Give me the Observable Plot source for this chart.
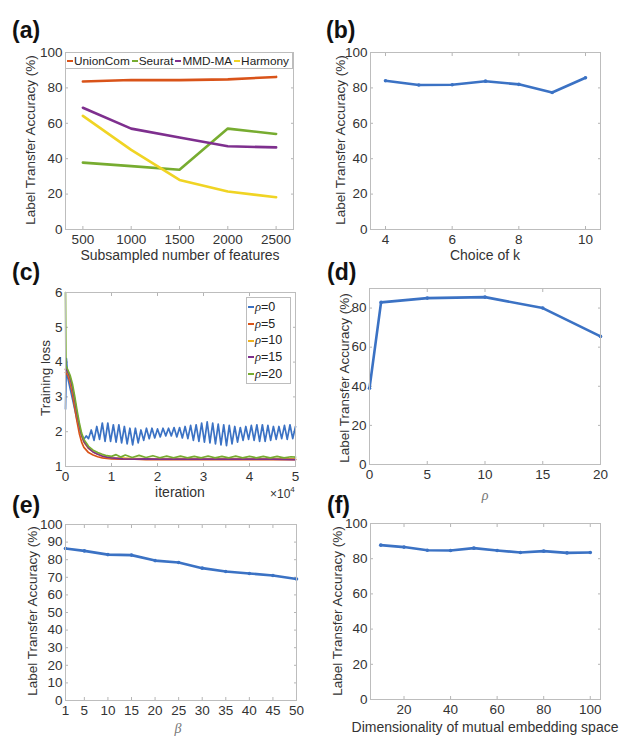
<!DOCTYPE html>
<html><head><meta charset="utf-8">
<script src="https://cdn.jsdelivr.net/npm/d3@7"></script>
<script src="https://cdn.jsdelivr.net/npm/@observablehq/plot@0.6"></script>
<style>
body{margin:0;background:#fff;font-family:"Liberation Sans",Arial,sans-serif;}
#fig{position:relative;width:627px;height:746px;overflow:hidden;background:#fff}
.abs{position:absolute;white-space:nowrap;color:#333;line-height:1;}
.plab{font-weight:bold;font-size:23px;color:#111}
.ytitle{font-size:13.5px;transform:translate(-50%,-50%) rotate(-90deg);}
.xtitle{font-size:14px;transform:translate(-50%,-50%);}
.greek{font-family:"Liberation Serif","DejaVu Serif",serif;font-style:italic;}
.legbox{position:absolute;border:1px solid #bdbdbd;background:#fff;box-sizing:border-box;}
.seg{position:absolute;height:2px;}
.lt{position:absolute;color:#222;line-height:1;white-space:nowrap;}
.hleg{display:flex;align-items:center;justify-content:space-between;padding:0 3px 0 1px;font-size:11.8px;color:#222;}
.hitem{display:flex;align-items:center;white-space:nowrap;}
.hitem i{display:inline-block;width:6px;height:2px;margin-right:1px;}
</style></head><body><div id="fig"></div><script>
// ---------- (a) ----------
const features = [500, 1000, 1500, 2000, 2500];
const methods = ["UnionCom", "Seurat", "MMD-MA", "Harmony"];
const unionCom = [83.6, 84.5, 84.4, 84.8, 86.2];
const seurat = [37.8, 35.8, 33.8, 57.0, 54.0];
const mmdMA = [68.8, 57.0, 52.0, 47.0, 46.4];
const harmony = [64.2, 45.0, 28.0, 21.5, 18.2];
const methodColors = ["#d95319", "#77ac30", "#7e2f8e", "#f0d424"];
// ---------- (b) ----------
const kValues = [4, 5, 6, 7, 8, 9, 10];
const accK = [84.0, 81.6, 81.8, 83.8, 82.0, 77.4, 85.7];
// ---------- (c) ----------
const rhoLegend = ["0", "5", "10", "15", "20"];
const rhoColors = ["#3b72c4", "#d95319", "#edb120", "#7e2f8e", "#77ac30"];
const iterRho0 = [0, 0.02, 0.05, 0.1, 0.15, 0.2, 0.25, 0.3, 0.35, 0.4, 0.45,
  0.50, 0.56, 0.62, 0.68, 0.74, 0.80, 0.86, 0.92, 0.98, 1.04, 1.10, 1.16, 1.22, 1.28, 1.34, 1.40,
  1.46, 1.52, 1.58, 1.64, 1.70, 1.76, 1.82, 1.88, 1.94, 2.00, 2.06, 2.12, 2.18, 2.24, 2.30, 2.36,
  2.42, 2.48, 2.54, 2.60, 2.66, 2.72, 2.78, 2.84, 2.90, 2.96, 3.02, 3.08, 3.14, 3.20, 3.26, 3.32,
  3.38, 3.44, 3.50, 3.56, 3.62, 3.68, 3.74, 3.80, 3.86, 3.92, 3.98, 4.04, 4.10, 4.16, 4.22, 4.28,
  4.34, 4.40, 4.46, 4.52, 4.58, 4.64, 4.70, 4.76, 4.82, 4.88, 4.94, 5.00];
const lossRho0 = [2.65, 4.1, 3.55, 3.25, 2.95, 2.65, 2.35, 2.1, 1.9, 1.78, 1.88,
  1.80, 2.05, 1.75, 2.15, 1.78, 2.25, 1.72, 2.25, 1.72, 2.20, 1.70, 2.20, 1.68, 2.15, 1.65, 2.10,
  1.62, 2.10, 1.68, 2.05, 1.75, 2.10, 1.80, 2.10, 1.82, 2.08, 1.85, 2.10, 1.88, 2.10, 1.88, 2.12,
  1.85, 2.12, 1.82, 2.15, 1.80, 2.18, 1.75, 2.20, 1.72, 2.25, 1.70, 2.28, 1.68, 2.25, 1.65, 2.22,
  1.62, 2.20, 1.60, 2.18, 1.65, 2.15, 1.70, 2.12, 1.75, 2.15, 1.78, 2.18, 1.75, 2.20, 1.72, 2.20,
  1.72, 2.18, 1.75, 2.15, 1.78, 2.15, 1.80, 2.18, 1.78, 2.20, 1.80, 2.15];
const iterSmooth = [0, 0.05, 0.1, 0.15, 0.2, 0.25, 0.3, 0.35, 0.4, 0.5, 0.6, 0.7, 0.8, 0.9, 1.0,
  1.25, 1.5, 1.75, 2.0, 2.5, 3.0, 3.5, 4.0, 4.5, 5.0];
const lossRho5 = [3.70, 3.62, 3.42, 3.10, 2.70, 2.30, 1.95, 1.70, 1.55, 1.40, 1.33, 1.28, 1.25, 1.23, 1.22,
  1.21, 1.21, 1.20, 1.20, 1.20, 1.20, 1.20, 1.20, 1.20, 1.20];
const lossRho10 = [3.78, 3.70, 3.52, 3.25, 2.90, 2.50, 2.15, 1.88, 1.70, 1.52, 1.42, 1.35, 1.30, 1.27, 1.25,
  1.24, 1.23, 1.23, 1.22, 1.23, 1.22, 1.23, 1.22, 1.23, 1.22];
const lossRho15 = [3.80, 3.72, 3.55, 3.28, 2.92, 2.52, 2.17, 1.90, 1.72, 1.53, 1.42, 1.35, 1.30, 1.27, 1.25,
  1.22, 1.21, 1.22, 1.21, 1.21, 1.21, 1.21, 1.21, 1.21, 1.20];
const iterRho20 = [0, 0.01, 0.05, 0.1, 0.15, 0.2, 0.25, 0.3, 0.35, 0.4, 0.5, 0.6, 0.7, 0.8, 0.9, 1.0,
  1.1, 1.2, 1.3, 1.45, 1.6, 1.75, 1.9, 2.05, 2.2, 2.35, 2.5, 2.65, 2.8, 2.95, 3.1, 3.25, 3.4, 3.55,
  3.7, 3.85, 4.0, 4.15, 4.3, 4.45, 4.6, 4.75, 4.9, 5.0];
const lossRho20 = [6.0, 3.9, 3.78, 3.62, 3.38, 3.02, 2.62, 2.26, 1.96, 1.78, 1.58, 1.47, 1.40, 1.35, 1.31, 1.29,
  1.34, 1.27, 1.33, 1.26, 1.32, 1.26, 1.31, 1.25, 1.30, 1.25, 1.30, 1.25, 1.29, 1.25, 1.30, 1.25, 1.29, 1.25,
  1.30, 1.25, 1.29, 1.25, 1.29, 1.25, 1.29, 1.25, 1.28, 1.27];
// ---------- (d) ----------
const rhoValues = [0, 1, 5, 10, 15, 20];
const accRho = [39.0, 82.9, 85.1, 85.6, 80.0, 65.5];
// ---------- (e) ----------
const betaValues = [1, 5, 10, 15, 20, 25, 30, 35, 40, 45, 50];
const accBeta = [86.4, 85.0, 82.9, 82.6, 79.5, 78.4, 75.2, 73.3, 72.2, 71.0, 69.0];
// ---------- (f) ----------
const dimValues = [10, 20, 30, 40, 50, 60, 70, 80, 90, 100];
const accDim = [87.7, 86.6, 84.8, 84.7, 86.0, 84.7, 83.5, 84.3, 83.3, 83.5];

const BLUE = "#3b72c4";
const fig = document.getElementById("fig");

function panel({fl, ft, fr, fb, xDomain, xTicks, yDomain, yTicks, marks}) {
  const ml = 44, mt = 8, mr = 8, mb = 26;
  const w = fr - fl + ml + mr, h = fb - ft + mt + mb;
  const tickOpts = {tickSize: -3, tickFormat: () => "", label: null, stroke: "#b5b5b5"};
  const fmt = d => String(d);
  const chart = Plot.plot({
    width: w, height: h, marginLeft: ml, marginTop: mt, marginRight: mr, marginBottom: mb,
    style: {fontFamily: "Liberation Sans, Arial, sans-serif", fontSize: "13.5px", color: "#333", background: "transparent", overflow: "visible"},
    x: {domain: xDomain},
    y: {domain: yDomain},
    marks: [
      Plot.axisX(xTicks, {anchor: "bottom", tickSize: 0, tickPadding: 5, tickFormat: fmt, label: null, fill: "#333"}),
      Plot.axisY(yTicks, {anchor: "left", tickSize: 0, tickPadding: 3, tickFormat: fmt, label: null, fill: "#333"}),
      Plot.axisX(xTicks, {anchor: "bottom", ...tickOpts}),
      Plot.axisX(xTicks, {anchor: "top", ...tickOpts}),
      Plot.axisY(yTicks, {anchor: "left", ...tickOpts}),
      Plot.axisY(yTicks, {anchor: "right", ...tickOpts}),
      ...marks,
      Plot.frame({stroke: "#bdbdbd"})
    ]
  });
  chart.style.position = "absolute";
  chart.style.left = (fl - ml) + "px";
  chart.style.top = (ft - mt) + "px";
  fig.appendChild(chart);
}

function addText(html, cls, left, top) {
  const d = document.createElement("div");
  d.className = "abs " + cls;
  d.style.left = left + "px";
  d.style.top = top + "px";
  d.innerHTML = html;
  fig.appendChild(d);
  return d;
}

// (a)
const rowsA = [];
[unionCom, seurat, mmdMA, harmony].forEach((vals, j) =>
  features.forEach((f, i) => rowsA.push({method: methods[j], x: f, y: vals[i]})));
panel({fl: 65, ft: 52, fr: 293, fb: 229, xDomain: [320, 2680], xTicks: features, yDomain: [0, 100], yTicks: [0, 20, 40, 60, 80, 100],
  marks: methods.map((m, j) => Plot.line(rowsA.filter(d => d.method === m), {x: "x", y: "y", stroke: methodColors[j], strokeWidth: 2.6}))});

// (b)
const rowsB = kValues.map((k, i) => ({x: k, y: accK[i]}));
panel({fl: 370, ft: 52, fr: 600, fb: 229, xDomain: [3.55, 10.45], xTicks: [4, 6, 8, 10], yDomain: [0, 100], yTicks: [0, 20, 40, 60, 80, 100],
  marks: [Plot.line(rowsB, {x: "x", y: "y", stroke: BLUE, strokeWidth: 2.6}), Plot.dot(rowsB, {x: "x", y: "y", r: 1.8, fill: BLUE})]});

// (c)
const seriesC = [[iterRho0, lossRho0], [iterSmooth, lossRho5], [iterSmooth, lossRho10], [iterSmooth, lossRho15], [iterRho20, lossRho20]];
panel({fl: 65, ft: 292, fr: 295, fb: 466, xDomain: [0, 5], xTicks: [0, 1, 2, 3, 4, 5], yDomain: [1, 6], yTicks: [1, 2, 3, 4, 5, 6],
  marks: seriesC.map(([xs, ys], j) => Plot.line(xs.map((x, i) => ({x, y: ys[i]})), {x: "x", y: "y", stroke: rhoColors[j], strokeWidth: 1.7}))});

// (d)
const rowsD = rhoValues.map((r, i) => ({x: r, y: accRho[i]}));
panel({fl: 369, ft: 288, fr: 600, fb: 464, xDomain: [0, 20], xTicks: [0, 5, 10, 15, 20], yDomain: [0, 90], yTicks: [0, 20, 40, 60, 80],
  marks: [Plot.line(rowsD, {x: "x", y: "y", stroke: BLUE, strokeWidth: 2.6}), Plot.dot(rowsD, {x: "x", y: "y", r: 1.8, fill: BLUE})]});

// (e)
const rowsE = betaValues.map((b, i) => ({x: b, y: accBeta[i]}));
panel({fl: 65, ft: 524, fr: 296, fb: 700, xDomain: [1, 50], xTicks: betaValues, yDomain: [0, 100], yTicks: [0, 10, 20, 30, 40, 50, 60, 70, 80, 90, 100],
  marks: [Plot.line(rowsE, {x: "x", y: "y", stroke: BLUE, strokeWidth: 2.6}), Plot.dot(rowsE, {x: "x", y: "y", r: 1.8, fill: BLUE})]});

// (f)
const rowsF = dimValues.map((d, i) => ({x: d, y: accDim[i]}));
panel({fl: 370, ft: 523, fr: 600, fb: 699, xDomain: [5.6, 104.4], xTicks: [20, 40, 60, 80, 100], yDomain: [0, 100], yTicks: [0, 20, 40, 60, 80, 100],
  marks: [Plot.line(rowsF, {x: "x", y: "y", stroke: BLUE, strokeWidth: 2.6}), Plot.dot(rowsF, {x: "x", y: "y", r: 1.8, fill: BLUE})]});

// panel letters
addText("(a)", "plab", 12, 19);
addText("(b)", "plab", 326, 19);
addText("(c)", "plab", 12, 261);
addText("(d)", "plab", 327, 261);
addText("(e)", "plab", 12, 494);
addText("(f)", "plab", 327, 494);

// y titles
const yLab = "Label Transfer Accuracy (%)";
addText(yLab, "ytitle", 31, 140);
addText(yLab, "ytitle", 341, 140);
addText("Training loss", "ytitle", 46, 378);
addText(yLab, "ytitle", 345, 378);
addText(yLab, "ytitle", 33, 611);
addText(yLab, "ytitle", 338, 611);

// x titles
addText("Subsampled number of features", "xtitle", 180, 255);
addText("Choice of k", "xtitle", 485, 255);
addText("iteration", "xtitle", 180, 492);
addText("×10<sup style='font-size:8px;vertical-align:6px'>4</sup>", "", 270, 486).style.fontSize = "12px";
addText("<span class='greek'>ρ</span>", "xtitle", 485, 495).style.color = "#777";
addText("<span class='greek'>β</span>", "xtitle", 178, 728).style.color = "#777";
addText("Dimensionality of mutual embedding space", "xtitle", 485, 727);

// legend (a): horizontal, flowing
const legA = document.createElement("div");
legA.className = "legbox hleg";
Object.assign(legA.style, {left: "65px", top: "52px", width: "228px", height: "17px"});
legA.innerHTML = methods.map((m, j) =>
  `<span class="hitem"><i style="background:${methodColors[j]}"></i>${m}</span>`).join("");
fig.appendChild(legA);

// legend (c): vertical
function legItem(html, color, segX, textX, cy, fs) {
  const s = document.createElement("div");
  s.className = "seg";
  Object.assign(s.style, {left: segX + "px", top: (cy - 1) + "px", width: "6px", background: color});
  fig.appendChild(s);
  const t = document.createElement("div");
  t.className = "lt";
  Object.assign(t.style, {left: textX + "px", top: (cy - fs / 2) + "px", fontSize: fs + "px"});
  t.innerHTML = html;
  fig.appendChild(t);
}
const legC = document.createElement("div");
legC.className = "legbox";
Object.assign(legC.style, {left: "246px", top: "297px", width: "45px", height: "87px"});
fig.appendChild(legC);
rhoLegend.forEach((r, j) => legItem("<span class='greek'>ρ</span>=" + r, rhoColors[j], 248, 255, 307 + j * 16.8, 12.5));
</script></body></html>
